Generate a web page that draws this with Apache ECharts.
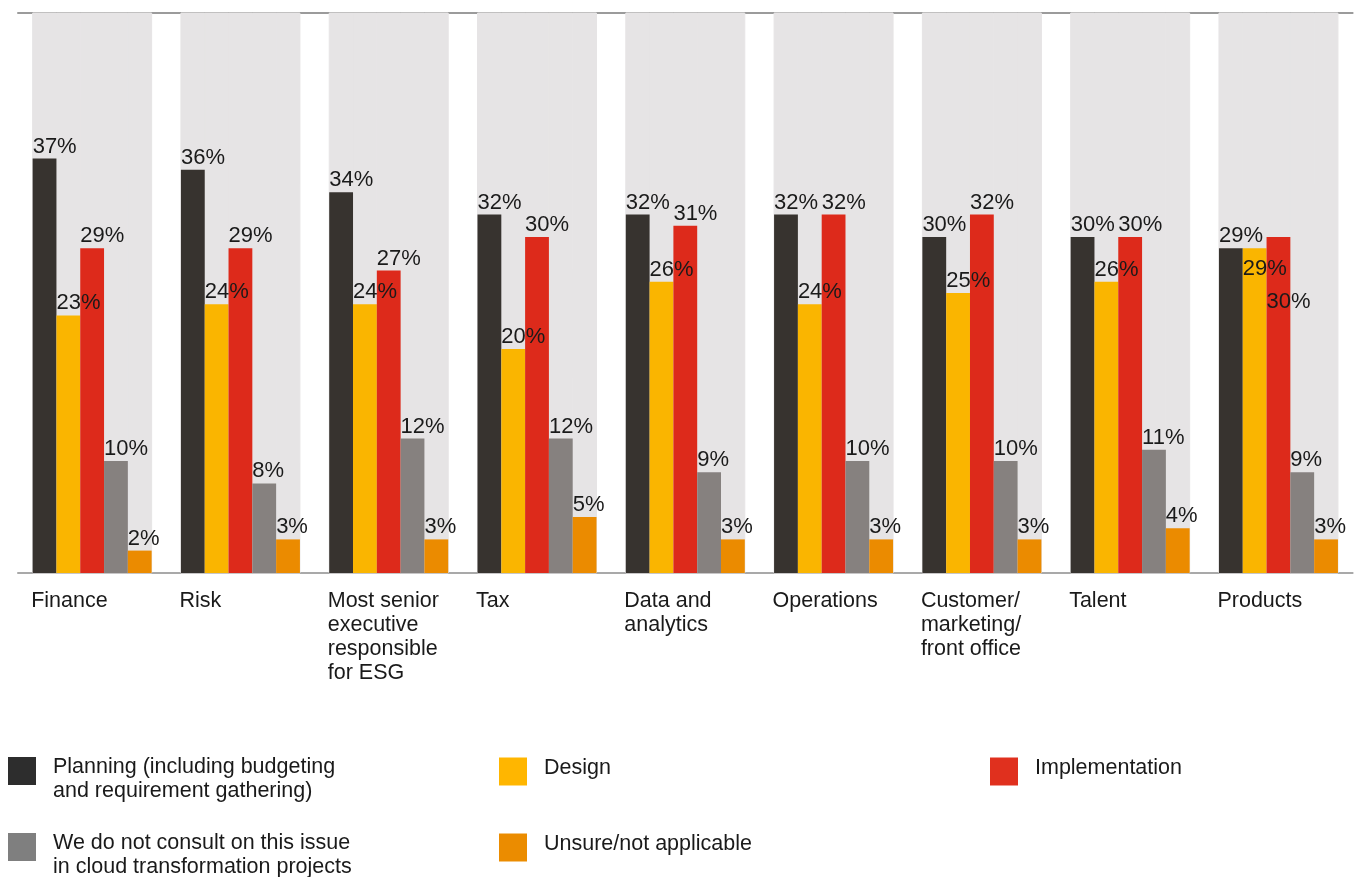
<!DOCTYPE html>
<html>
<head>
<meta charset="utf-8">
<script src="https://cdn.jsdelivr.net/npm/echarts@6/dist/echarts.min.js"></script>
<style>
  html, body { margin: 0; padding: 0; background: #fff; }
  #chart { width: 1355px; height: 877px; }
</style>
</head>
<body>
<div id="chart"></div>
<script>
const categories = ['Finance', 'Risk', 'Most senior\nexecutive\nresponsible\nfor ESG', 'Tax',
  'Data and\nanalytics', 'Operations', 'Customer/\nmarketing/\nfront office', 'Talent', 'Products']
const planning = [37, 36, 34, 32, 32, 32, 30, 30, 29]
const design = [23, 24, 24, 20, 26, 24, 25, 26, 29]
const implementation = [29, 29, 27, 30, 31, 32, 32, 30, 30]
const notConsult = [10, 8, 12, 12, 9, 10, 10, 11, 9]
const unsure = [2, 3, 3, 5, 3, 3, 3, 4, 3]

const FONT = '"Liberation Sans", Arial, Helvetica, sans-serif'
const BAR_W = 23.8
const BG = '#e6e4e5'

// labels in the source that were pushed down to avoid overlapping
const nudge = { Design: { 8: 33 }, Implementation: { 8: 77 } }

const SERIES = [
  { name: 'Planning (including budgeting and requirement gathering)', data: planning, color: '#37332f', legend: '#2d2d2d' },
  { name: 'Design', data: design, color: '#fab500', legend: '#ffb600' },
  { name: 'Implementation', data: implementation, color: '#dd2a1b', legend: '#e0301e' },
  { name: 'We do not consult on this issue in cloud transformation projects', data: notConsult, color: '#86817f', legend: '#7f7f7f' },
  { name: 'Unsure/not applicable', data: unsure, color: '#eb8b00', legend: '#eb8c00' },
]

// rich text: a spacer line keeps the first text line level with the square
const LEGEND_TEXT = {
  'Planning (including budgeting and requirement gathering)':
    '{s| }\n{t|Planning (including budgeting}\n{t|and requirement gathering)}',
  'We do not consult on this issue in cloud transformation projects':
    '{s| }\n{t|We do not consult on this issue}\n{t|in cloud transformation projects}',
}

const legendPos = [
  { left: 8, top: 739 },
  { left: 499, top: 757 },
  { left: 990, top: 757 },
  { left: 8, top: 815 },
  { left: 499, top: 833 },
]

const chart = echarts.init(document.getElementById('chart'), null, { renderer: 'canvas' })

const option = {
  animation: false,
  grid: { left: 18, right: 2.4, top: 13, bottom: 304, containLabel: false },
  xAxis: [
    {
      type: 'category',
      data: categories,
      axisLine: { lineStyle: { color: '#a9a9a9', width: 2 } },
      axisTick: { show: false },
      axisLabel: {
        interval: 0,
        align: 'left',
        verticalAlign: 'top',
        margin: 16,
        padding: [0, 0, 0, -61],
        color: '#1a1a1a',
        fontFamily: FONT,
        fontSize: 21.5,
        lineHeight: 24,
      },
    },
    {
      type: 'category',
      data: categories,
      position: 'top',
      axisLine: { lineStyle: { color: '#9b9b9b', width: 2 } },
      axisTick: { show: false },
      axisLabel: { show: false },
    },
  ],
  yAxis: { type: 'value', min: 0, max: 50, show: false, splitLine: { show: false } },
  legend: SERIES.map((s, i) => ({
    left: legendPos[i].left,
    top: legendPos[i].top,
    padding: 0,
    icon: 'rect',
    itemWidth: 28,
    itemHeight: 28,
    selectedMode: false,
    data: [{ name: s.name, itemStyle: { color: s.legend } }],
    formatter: n => LEGEND_TEXT[n] || ('{t|' + n + '}\n{e| }'),
    textStyle: {
      color: '#1a1a1a',
      fontFamily: FONT,
      fontSize: 21.5,
      padding: [0, 0, 0, 12],
      rich: {
        t: { fontFamily: FONT, fontSize: 21.5, lineHeight: 24, color: '#1a1a1a' },
        s: { fontSize: 16, lineHeight: 16 },
        e: { fontSize: 4, lineHeight: 7 },
      },
    },
  })),
  series: SERIES.map(s => ({
    name: s.name,
    type: 'bar',
    barWidth: BAR_W,
    barGap: '0%',
    itemStyle: { color: s.color },
    showBackground: true,
    backgroundStyle: { color: BG, borderColor: BG, borderWidth: 1 },
    label: {
      show: true,
      position: 'top',
      align: 'left',
      distance: 1,
      offset: [-BAR_W / 2, 0],
      formatter: '{c}%',
      color: '#1a1a1a',
      fontFamily: FONT,
      fontSize: 22,
      lineHeight: 22,
    },
    data: s.data.map((v, i) => {
      const dy = (nudge[s.name] || {})[i]
      return dy ? { value: v, label: { offset: [-BAR_W / 2, dy] } } : v
    }),
  })),
}

chart.setOption(option)
</script>
</body>
</html>
